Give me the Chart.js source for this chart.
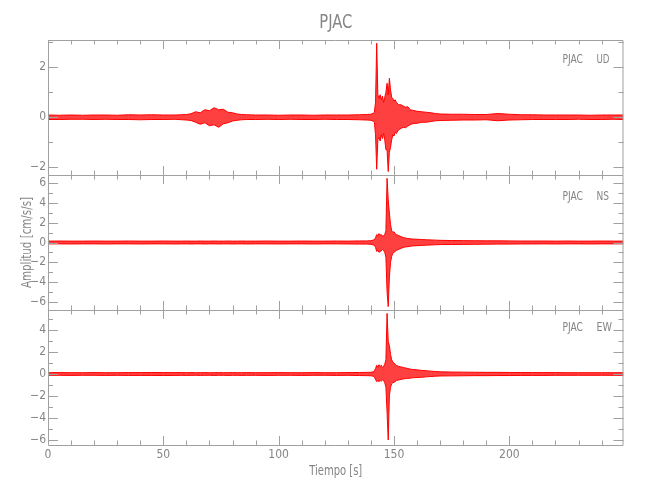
<!DOCTYPE html>
<html>
<head>
<meta charset="utf-8">
<script src="https://cdn.jsdelivr.net/npm/chart.js@4/dist/chart.umd.min.js"></script>
<style>
    body { margin: 0; background: #fff; }
    #wrap { position: relative; width: 650px; height: 500px; }
    #wrap canvas { position: absolute; left: 0; top: 0; }
</style>
</head>
<body>
<div id="wrap">
    <canvas id="udChart" width="650" height="500"></canvas>
    <canvas id="nsChart" width="650" height="500"></canvas>
    <canvas id="ewChart" width="650" height="500"></canvas>
</div>
<script>
// time of each envelope sample (s)
var seconds = [
    0, 5, 10, 15, 20, 25, 30, 35, 40, 45, 50, 55,
    58, 60, 62, 64, 66, 68, 70, 72, 74, 76, 78, 80, 82, 84, 86,
    90, 95, 100, 105, 110, 115, 120, 125, 130, 135, 138, 140,
    141, 141.5, 142, 142.5, 143, 143.5, 144, 144.5, 145, 145.5, 146, 146.5,
    147, 147.5, 148, 148.5, 149, 149.5, 150, 150.5, 151, 152,
    153, 154, 155, 156, 157, 158, 160, 162, 164, 166, 168, 170,
    175, 180, 185, 190, 195, 200, 205, 210, 215, 220, 225, 230, 235, 240, 245, 249.5
];

// peak amplitudes (cm/s/s), upper and lower side
var udUpper = [
    0.09, 0.08, 0.09, 0.08, 0.09, 0.09, 0.08, 0.10, 0.09, 0.10, 0.09, 0.09,
    0.10, 0.11, 0.14, 0.22, 0.18, 0.30, 0.26, 0.38, 0.30, 0.32, 0.20, 0.18, 0.13, 0.11, 0.10,
    0.09, 0.09, 0.08, 0.09, 0.09, 0.08, 0.09, 0.09, 0.09, 0.10, 0.11, 0.12,
    0.16, 0.20, 0.60, 2.96, 0.90, 0.75, 0.90, 0.70, 0.85, 0.60, 0.80, 1.00,
    1.36, 0.90, 1.56, 1.10, 0.80, 0.75, 0.65, 0.70, 0.60, 0.50,
    0.50, 0.45, 0.40, 0.42, 0.30, 0.28, 0.24, 0.22, 0.20, 0.18, 0.15, 0.13,
    0.12, 0.12, 0.11, 0.11, 0.15, 0.12, 0.10, 0.10, 0.09, 0.09, 0.09, 0.09, 0.08, 0.09, 0.09, 0.09
];
var udLower = [
    -0.09, -0.09, -0.08, -0.08, -0.09, -0.08, -0.09, -0.09, -0.10, -0.09, -0.09, -0.08,
    -0.10, -0.11, -0.13, -0.20, -0.28, -0.22, -0.34, -0.30, -0.40, -0.26, -0.22, -0.15, -0.12, -0.10, -0.09,
    -0.09, -0.08, -0.09, -0.08, -0.09, -0.09, -0.08, -0.09, -0.09, -0.10, -0.11, -0.12,
    -0.16, -0.20, -0.70, -2.08, -0.90, -0.80, -0.95, -0.70, -0.85, -0.65, -0.90, -1.30,
    -1.30, -2.17, -1.40, -1.20, -0.90, -0.70, -0.75, -0.60, -0.65, -0.50,
    -0.45, -0.40, -0.42, -0.35, -0.30, -0.26, -0.24, -0.20, -0.20, -0.17, -0.14, -0.13,
    -0.12, -0.11, -0.11, -0.10, -0.14, -0.11, -0.10, -0.09, -0.09, -0.09, -0.09, -0.08, -0.09, -0.09, -0.08, -0.09
];

var nsUpper = [
    0.14, 0.15, 0.14, 0.14, 0.15, 0.14, 0.14, 0.15, 0.14, 0.14, 0.15, 0.14,
    0.14, 0.15, 0.14, 0.14, 0.15, 0.14, 0.14, 0.15, 0.14, 0.14, 0.15, 0.14, 0.14, 0.15, 0.14,
    0.14, 0.15, 0.14, 0.14, 0.15, 0.14, 0.14, 0.15, 0.14, 0.16, 0.16, 0.18,
    0.25, 0.30, 0.50, 0.80, 0.70, 0.90, 0.75, 0.80, 0.65, 0.70, 0.80, 1.20,
    6.50, 4.30, 3.00, 1.80, 1.20, 1.00, 1.10, 0.90, 0.80, 0.70,
    0.60, 0.50, 0.45, 0.40, 0.38, 0.35, 0.33, 0.30, 0.28, 0.26, 0.24, 0.22,
    0.20, 0.19, 0.18, 0.17, 0.17, 0.16, 0.15, 0.15, 0.15, 0.14, 0.15, 0.14, 0.14, 0.15, 0.14, 0.14
];
var nsLower = [
    -0.14, -0.14, -0.15, -0.14, -0.14, -0.15, -0.14, -0.14, -0.15, -0.14, -0.14, -0.15,
    -0.14, -0.14, -0.15, -0.14, -0.14, -0.15, -0.14, -0.14, -0.15, -0.14, -0.14, -0.15, -0.14, -0.14, -0.15,
    -0.14, -0.14, -0.15, -0.14, -0.14, -0.15, -0.14, -0.14, -0.15, -0.16, -0.16, -0.18,
    -0.25, -0.30, -0.50, -0.90, -0.80, -1.00, -0.90, -0.85, -0.70, -0.80, -1.00, -1.50,
    -5.00, -6.50, -3.50, -2.00, -1.40, -1.10, -1.00, -0.90, -0.80, -0.70,
    -0.60, -0.50, -0.45, -0.42, -0.38, -0.35, -0.32, -0.30, -0.27, -0.25, -0.23, -0.21,
    -0.20, -0.19, -0.18, -0.17, -0.16, -0.16, -0.15, -0.15, -0.14, -0.15, -0.14, -0.14, -0.15, -0.14, -0.14, -0.14
];

var ewUpper = [
    0.12, 0.13, 0.12, 0.12, 0.13, 0.12, 0.12, 0.13, 0.13, 0.14, 0.13, 0.13,
    0.13, 0.12, 0.13, 0.12, 0.12, 0.13, 0.12, 0.12, 0.13, 0.12, 0.12, 0.13, 0.12, 0.12, 0.13,
    0.12, 0.12, 0.13, 0.12, 0.12, 0.13, 0.12, 0.12, 0.13, 0.14, 0.15, 0.16,
    0.20, 0.30, 0.50, 0.80, 0.60, 0.85, 0.70, 0.80, 0.60, 0.70, 0.90, 1.30,
    5.55, 3.00, 2.60, 1.80, 1.30, 1.10, 1.00, 0.90, 0.80, 0.70,
    0.65, 0.60, 0.55, 0.50, 0.45, 0.42, 0.38, 0.33, 0.30, 0.26, 0.23, 0.20,
    0.18, 0.17, 0.16, 0.15, 0.15, 0.14, 0.14, 0.13, 0.13, 0.13, 0.12, 0.12, 0.12, 0.12, 0.12, 0.12
];
var ewLower = [
    -0.12, -0.12, -0.13, -0.12, -0.12, -0.13, -0.12, -0.13, -0.13, -0.13, -0.14, -0.13,
    -0.12, -0.13, -0.12, -0.12, -0.13, -0.12, -0.12, -0.13, -0.12, -0.12, -0.13, -0.12, -0.12, -0.13, -0.12,
    -0.12, -0.13, -0.12, -0.12, -0.13, -0.12, -0.12, -0.13, -0.12, -0.14, -0.15, -0.16,
    -0.20, -0.30, -0.50, -0.70, -0.60, -0.70, -0.60, -0.65, -0.55, -0.60, -0.80, -1.20,
    -3.50, -6.04, -2.00, -1.20, -0.90, -0.80, -0.75, -0.70, -0.60, -0.55,
    -0.50, -0.45, -0.42, -0.40, -0.38, -0.35, -0.32, -0.30, -0.26, -0.23, -0.20, -0.18,
    -0.17, -0.16, -0.15, -0.15, -0.14, -0.14, -0.13, -0.13, -0.13, -0.12, -0.12, -0.12, -0.12, -0.12, -0.12, -0.12
];

var xTicks = [0, 50, 100, 150, 200];
var udTicks = [-2, 0, 2];
var nsTicks = [-6, -4, -2, 0, 2, 4, 6];
var ewTicks = [-6, -4, -2, 0, 2, 4];

var RED = '#ff0000';
var TEXT = '#858585';
var AXIS = '#a0a0a0';
var FONT = '"DejaVu Sans Condensed", "Liberation Sans Narrow", sans-serif';

function toPoints(values) {
    return seconds.map(function (t, i) { return { x: t, y: values[i] }; });
}

// draws text squeezed horizontally so that it spans width w (narrow plotter look)
function drawText(ctx, text, x, y, size, w, align, rot) {
    ctx.save();
    ctx.font = size + 'px ' + FONT;
    var sx = w ? w / ctx.measureText(text).width : 1;
    ctx.translate(x, y);
    if (rot) ctx.rotate(rot);
    ctx.scale(sx, 1);
    ctx.fillStyle = TEXT;
    ctx.textAlign = align;
    ctx.textBaseline = 'middle';
    ctx.fillText(text, 0, 0);
    ctx.restore();
}

// box, inward ticks on all four sides, and the panel texts
var seisFrame = {
    id: 'seisFrame',
    afterDatasetsDraw: function (chart, args, opts) {
        var ctx = chart.ctx, a = chart.chartArea;
        var x = chart.scales.x, y = chart.scales.y;
        var v, p, len;
        ctx.save();
        ctx.strokeStyle = AXIS;
        ctx.lineWidth = 1;
        ctx.beginPath();
        ctx.rect(a.left + 0.5, a.top + 0.5, a.right - a.left - 1, a.bottom - a.top);
        for (v = 0; v <= x.max; v += 10) {
            p = Math.round(x.getPixelForValue(v)) + 0.5;
            len = v % 50 === 0 ? 9 : 4.5;
            ctx.moveTo(p, a.top); ctx.lineTo(p, a.top + len);
            ctx.moveTo(p, a.bottom); ctx.lineTo(p, a.bottom - len);
        }
        for (v = Math.ceil(y.min); v <= y.max; v++) {
            p = Math.round(y.getPixelForValue(v)) + 0.5;
            len = v % 2 === 0 ? 10 : 5;
            ctx.moveTo(a.left, p); ctx.lineTo(a.left + len, p);
            ctx.moveTo(a.right, p); ctx.lineTo(a.right - len, p);
        }
        ctx.stroke();
        ctx.restore();

        drawText(ctx, 'PJAC', a.right - 61, a.top + opts.labelDy, 12, 20.5, 'left');
        drawText(ctx, opts.comp, a.right - 27, a.top + opts.labelDy, 12, opts.compW, 'left');
        if (opts.title) {
            drawText(ctx, opts.title, (a.left + a.right) / 2, 23, 20, 33, 'center');
        }
        if (opts.yTitle) {
            drawText(ctx, opts.yTitle, a.left - 21, (a.top + a.bottom) / 2, 14, 91, 'center', -Math.PI / 2);
        }
        if (opts.xTitle) {
            drawText(ctx, opts.xTitle, (a.left + a.right) / 2, a.bottom + 26, 14, 53, 'center');
        }
    }
};

function tickLabel(value) {
    return value < 0 ? '\u2212' + (-value) : String(value);
}

function createPanel(id, upper, lower, yMin, yMax, yTicks, pad, showX, frame) {
    var ctx = document.getElementById(id);
    if (!ctx) return;

    new Chart(ctx, {
        type: 'line',
        data: {
            datasets: [{
                data: toPoints(upper),
                borderColor: RED,
                borderWidth: 1,
                backgroundColor: 'rgba(255,0,0,0.75)',
                fill: '+1',
                pointRadius: 0,
                tension: 0
            }, {
                data: toPoints(lower),
                borderColor: RED,
                borderWidth: 1,
                fill: false,
                pointRadius: 0,
                tension: 0
            }]
        },
        options: {
            responsive: false,
            animation: false,
            events: [],
            layout: { padding: { top: pad.top, bottom: pad.bottom, left: 0, right: 26.5 } },
            plugins: {
                legend: { display: false },
                tooltip: { enabled: false },
                seisFrame: frame
            },
            scales: {
                x: {
                    type: 'linear',
                    min: 0,
                    max: 249.5,
                    display: showX,
                    grid: { display: false, drawTicks: false },
                    border: { display: false },
                    afterBuildTicks: function (s) {
                        s.ticks = xTicks.map(function (v) { return { value: v }; });
                    },
                    afterFit: function (s) {
                        if (showX) s.height = 55;
                    },
                    ticks: {
                        padding: 3,
                        color: TEXT,
                        maxRotation: 0,
                        autoSkip: false,
                        font: { family: FONT, size: 12 }
                    }
                },
                y: {
                    min: yMin,
                    max: yMax,
                    grid: { display: false, drawTicks: false },
                    border: { display: false },
                    afterBuildTicks: function (s) {
                        s.ticks = yTicks.map(function (v) { return { value: v }; });
                    },
                    afterFit: function (s) {
                        s.width = 48;
                    },
                    ticks: {
                        padding: 2,
                        color: TEXT,
                        font: { family: FONT, size: 12 },
                        callback: tickLabel
                    }
                }
            }
        },
        plugins: [seisFrame]
    });
}

createPanel("udChart", udUpper, udLower, -2.31, 3.09, udTicks, { top: 40, bottom: 325 }, false,
    { comp: 'UD', compW: 13, labelDy: 20, title: 'PJAC' });
createPanel("nsChart", nsUpper, nsLower, -6.84, 6.84, nsTicks, { top: 175, bottom: 190 }, false,
    { comp: 'NS', compW: 12.5, labelDy: 22, yTitle: 'Amplitud [cm/s/s]' });
createPanel("ewChart", ewUpper, ewLower, -6.5, 5.86, ewTicks, { top: 310, bottom: 0 }, true,
    { comp: 'EW', compW: 15.5, labelDy: 18, xTitle: 'Tiempo [s]' });
</script>
</body>
</html>
